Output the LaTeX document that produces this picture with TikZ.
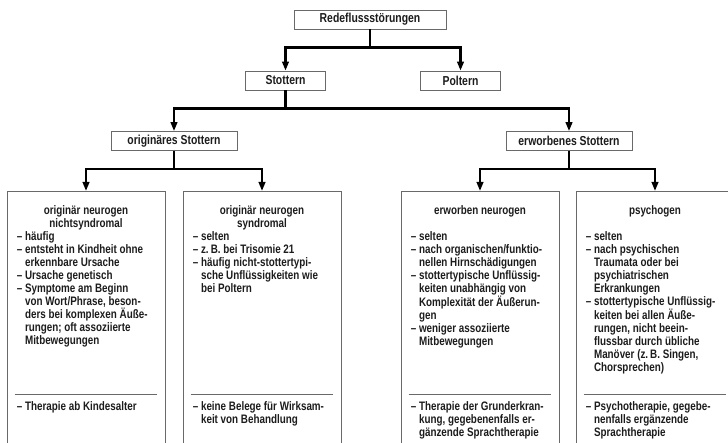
\documentclass[tikz,border=0pt]{standalone}
\usepackage{fontspec}
\setmainfont{Liberation Sans}[FakeStretch=0.8]
\usetikzlibrary{arrows.meta,positioning,calc}
\definecolor{boxgray}{RGB}{105,105,105}
\definecolor{textdark}{RGB}{28,28,28}
\newcommand{\itm}{–\ }
\newcommand{\cnt}{\hphantom{–\ }}

\begin{document}
\begin{tikzpicture}[x=1pt,y=-1pt,
    head/.style={draw=boxgray, line width=0.7pt, fill=white, minimum height=19pt, inner sep=0pt,
      font=\bfseries\fontsize{13}{15}\selectfont, text=textdark},
    leaf/.style={draw=boxgray, line width=0.7pt, minimum width=158pt, minimum height=290pt,
      anchor=north, inner sep=0pt},
    hd/.style={anchor=north, align=center, inner sep=0pt,
      font=\bfseries\fontsize{12.3}{13}\selectfont, text=textdark},
    txt/.style={anchor=north west, align=left, inner sep=0pt,
      font=\bfseries\fontsize{12.3}{13}\selectfont, text=textdark},
    sep/.style={draw=boxgray, line width=0.7pt},
    conn/.style={line width=2.4pt, black},
    arr/.style={conn, -{Triangle[length=9pt,width=6.5pt]}}]
  \useasboundingbox (0,0) rectangle (728,443);

  % Draw the upper boxes
  \node[head, minimum width=152pt] (red) at (370,19.5) {Redeflussstörungen};
  \node[head, minimum width=80pt] (stot) at (285.5,80.5) {Stottern};
  \node[head, minimum width=80pt] (polt) at (460.5,80.5) {Poltern};
  \node[head, minimum width=126pt] (orig) at (174,141) {originäres Stottern};
  \node[head, minimum width=126pt] (erw) at (569,141) {erworbenes Stottern};

  % Draw the four lower boxes
  \node[leaf] (b1) at (86,191) {};
  \node[leaf] (b2) at (262,191) {};
  \node[leaf] (b3) at (480,191) {};
  \node[leaf] (b4) at (655,191) {};

  % Junctions
  \coordinate (j1) at (370,47.5);
  \coordinate (j2) at (285.5,108.5);
  \coordinate (j3) at (174,169);
  \coordinate (j4) at (569,169);

  % Draw the connections
  \draw[conn] (red) -- (j1);
  \draw[arr] (j1) -| (stot);
  \draw[arr] (j1) -| (polt);
  \draw[conn] (stot) -- (j2);
  \draw[arr] (j2) -| (orig);
  \draw[arr] (j2) -| (erw);
  \draw[conn] (orig) -- (j3);
  \draw[arr] (j3) -| (b1);
  \draw[arr] (j3) -| (b2);
  \draw[conn] (erw) -- (j4);
  \draw[arr] (j4) -| (b3);
  \draw[arr] (j4) -| (b4);

  % Separators
  \foreach \b in {b1,b2,b3,b4}
    \draw[sep] ($(\b.north west)+(8,203)$) -- ($(\b.north east)+(-8,203)$);

  % Box texts
  \node[hd] (h1) at ($(b1.north)+(0,14)$) {originär neurogen\\nichtsyndromal};
  \node[txt] (l1) at ($(b1.north west)+(10,40.5)$) {\itm häufig\\
    \itm entsteht in Kindheit ohne\\\cnt erkennbare Ursache\\
    \itm Ursache genetisch\\
    \itm Symptome am Beginn\\\cnt von Wort/Phrase, beson-\\\cnt ders bei komplexen Äuße-\\\cnt rungen; oft assoziierte\\\cnt Mitbewegungen};
  \node[txt] (f1) at ($(b1.north west)+(10,210.5)$) {\itm Therapie ab Kindesalter};

  \node[hd] (h2) at ($(b2.north)+(0,14)$) {originär neurogen\\syndromal};
  \node[txt] (l2) at ($(b2.north west)+(10,40.5)$) {\itm selten\\
    \itm z.\,B. bei Trisomie 21\\
    \itm häufig nicht-stottertypi-\\\cnt sche Unflüssigkeiten wie\\\cnt bei Poltern};
  \node[txt] (f2) at ($(b2.north west)+(10,210.5)$) {\itm keine Belege für Wirksam-\\\cnt keit von Behandlung};

  \node[hd] (h3) at ($(b3.north)+(0,14)$) {erworben neurogen};
  \node[txt] (l3) at ($(b3.north west)+(10,40.5)$) {\itm selten\\
    \itm nach organischen/funktio-\\\cnt nellen Hirnschädigungen\\
    \itm stottertypische Unflüssig-\\\cnt keiten unabhängig von\\\cnt Komplexität der Äußerun-\\\cnt gen\\
    \itm weniger assoziierte\\\cnt Mitbewegungen};
  \node[txt] (f3) at ($(b3.north west)+(10,210.5)$) {\itm Therapie der Grunderkran-\\\cnt kung, gegebenenfalls er-\\\cnt gänzende Sprachtherapie};

  \node[hd] (h4) at ($(b4.north)+(0,14)$) {psychogen};
  \node[txt] (l4) at ($(b4.north west)+(10,40.5)$) {\itm selten\\
    \itm nach psychischen\\\cnt Traumata oder bei\\\cnt psychiatrischen\\\cnt Erkrankungen\\
    \itm stottertypische Unflüssig-\\\cnt keiten bei allen Äuße-\\\cnt rungen, nicht beein-\\\cnt flussbar durch übliche\\\cnt Manöver (z.\,B. Singen,\\\cnt Chorsprechen)};
  \node[txt] (f4) at ($(b4.north west)+(10,210.5)$) {\itm Psychotherapie, gegebe-\\\cnt nenfalls ergänzende\\\cnt Sprachtherapie};
\end{tikzpicture}
\end{document}
